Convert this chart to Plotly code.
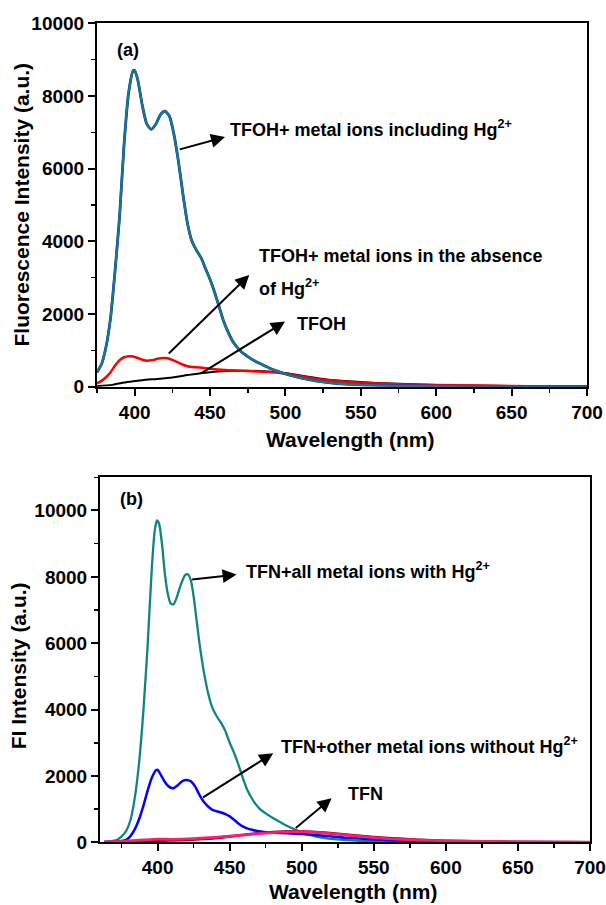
import plotly.graph_objects as go

# ---------------- data (a) ----------------
wl_a_teal = [375, 378, 381, 384, 387, 390, 393, 396, 399, 400, 402, 405, 408, 411, 414, 417, 420, 423, 426, 429,
             432, 435, 438, 441, 444, 447, 450, 453, 456, 459, 462, 465, 468, 471, 475, 480, 485, 490, 495, 500,
             510, 520, 530, 540, 550, 575, 600, 650, 700]
a_teal = [400, 620, 1100, 1900, 3200, 4700, 6700, 8100, 8700, 8700, 8450, 7750, 7230, 7080, 7220, 7480, 7580, 7450, 6950, 6200,
          5300, 4500, 4000, 3750, 3550, 3250, 2950, 2600, 2200, 1800, 1500, 1250, 1080, 950, 830, 700, 600, 500, 420, 350,
          240, 160, 105, 70, 50, 25, 15, 6, 0]

wl_a_red = [375, 378, 381, 384, 387, 390, 393, 396, 399, 402, 405, 408, 411, 414, 417, 420, 423, 426, 429, 432,
            435, 438, 441, 445, 450, 460, 470, 480, 490, 500, 510, 520, 530, 540, 550, 560, 575, 600, 625, 650, 675, 700]
a_red = [90, 160, 260, 400, 580, 730, 810, 840, 830, 790, 740, 715, 725, 755, 780, 790, 770, 715, 660, 605,
         565, 545, 535, 520, 495, 460, 440, 420, 400, 365, 285, 220, 170, 135, 110, 90, 70, 45, 30, 20, 10, 5]

wl_a_black = [375, 385, 395, 405, 415, 425, 435, 445, 455, 465, 475, 485, 495, 505, 515, 525, 535, 545, 560, 580,
              600, 625, 650, 675, 700]
a_black = [15, 50, 130, 180, 215, 255, 320, 380, 420, 440, 440, 425, 395, 340, 275, 215, 170, 140, 105, 75,
           50, 30, 18, 8, 3]

# ---------------- data (b) ----------------
wl_b_teal = [363, 366, 369, 372, 375, 378, 381, 384, 387, 390, 393, 396, 398, 399.5, 401, 403, 405, 407, 409, 411,
             413, 416, 419, 421, 423, 425, 427, 429, 432, 435, 438, 441, 444, 447, 450, 453, 456, 459, 462, 465,
             468, 471, 475, 480, 485, 490, 495, 500, 505, 510, 520, 530, 540, 560, 600, 650, 700]
b_teal = [15, 25, 40, 80, 180, 330, 650, 1300, 2350, 3900, 5900, 8300, 9400, 9700, 9600, 9000, 8100, 7500, 7200, 7170,
          7350, 7750, 8050, 8080, 7900, 7400, 6700, 6000, 5150, 4500, 4050, 3800, 3600, 3350, 3000, 2700, 2350, 1950, 1600, 1350,
          1150, 1000, 870, 730, 610, 490, 390, 300, 230, 170, 100, 65, 45, 25, 10, 5, 0]

wl_b_blue = [363, 370, 375, 378, 381, 384, 387, 390, 393, 396, 399, 400, 402, 405, 408, 411, 414, 417, 420, 423,
             426, 429, 432, 435, 438, 441, 444, 447, 450, 453, 456, 459, 462, 466, 470, 475, 480, 490, 500, 510,
             520, 530, 545, 560, 580, 600, 650, 700]
b_blue = [10, 20, 40, 70, 180, 380, 680, 1080, 1550, 1950, 2180, 2180, 2050, 1820, 1670, 1630, 1720, 1840, 1880, 1840,
          1680, 1430, 1220, 1080, 980, 935, 900, 850, 780, 680, 570, 480, 420, 370, 335, 305, 290, 270, 250, 220,
          180, 140, 100, 65, 40, 25, 8, 0]

wl_b_maroon = [363, 380, 400, 420, 440, 460, 480, 495, 510, 525, 540, 560, 580, 600, 625, 650, 700]
b_maroon = [5, 20, 50, 70, 120, 230, 310, 330, 310, 260, 200, 130, 80, 50, 25, 12, 0]

wl_b_pink = [363, 375, 390, 400, 410, 425, 440, 455, 470, 485, 495, 505, 520, 540, 560, 580, 600, 625, 650, 700]
b_pink = [10, 30, 70, 95, 90, 110, 150, 200, 260, 305, 320, 310, 260, 180, 110, 70, 45, 25, 12, 2]

x_ticks = [400, 450, 500, 550, 600, 650, 700]

FONT = "Liberation Sans"
W, H = 606, 905

fig = go.Figure()

def line(x, y, color, width, xa, ya):
    fig.add_trace(go.Scatter(x=x, y=y, mode="lines", xaxis=xa, yaxis=ya,
                             line=dict(color=color, width=width, shape="spline", smoothing=0.6),
                             hoverinfo="skip", showlegend=False))

# panel (a)
line(wl_a_black, a_black, "#000000", 2, "x", "y")
line(wl_a_red, a_red, "#ff0000", 2.5, "x", "y")
line(wl_a_teal, a_teal, "#1a1ad0", 2.8, "x", "y")
line(wl_a_teal, a_teal, "#177a80", 2.3, "x", "y")
# panel (b)
line(wl_b_teal, b_teal, "#0f8580", 2.3, "x2", "y2")
line(wl_b_blue, b_blue, "#0000ff", 2.5, "x2", "y2")
line(wl_b_maroon, b_maroon, "#800020", 2.5, "x2", "y2")
line(wl_b_pink, b_pink, "#ff1a75", 2.8, "x2", "y2")

def xaxis(rng, dom, anchor):
    return dict(range=rng, domain=dom, anchor=anchor, tickvals=x_ticks, ticks="outside", ticklen=7, tickwidth=2,
                tickcolor="black", showline=True, linewidth=2, linecolor="black", mirror=True,
                showgrid=False, zeroline=False, automargin=False,
                minor=dict(ticks="outside", ticklen=4, tickwidth=1.5, tickcolor="black", dtick=25, tick0=0),
                tickfont=dict(family=FONT, size=19, color="black", weight="bold"))

def yaxis(rng, dom, anchor, dtick):
    return dict(range=rng, domain=dom, anchor=anchor, dtick=dtick, tick0=0, tickformat="d",
                ticks="outside", ticklen=7, tickwidth=2,
                tickcolor="black", showline=True, linewidth=2, linecolor="black", mirror=True,
                showgrid=False, zeroline=False, automargin=False,
                minor=dict(ticks="outside", ticklen=4, tickwidth=1.5, tickcolor="black", dtick=1000, tick0=0),
                tickfont=dict(family=FONT, size=19, color="black", weight="bold"))

fig.update_layout(
    width=W, height=H, margin=dict(l=0, r=0, t=0, b=0, pad=0, autoexpand=False),
    paper_bgcolor="white", plot_bgcolor="white", showlegend=False,
    xaxis=xaxis([375, 700], [97 / W, 587 / W], "y"),
    yaxis=yaxis([0, 10000], [1 - 386.7 / H, 1 - 23.3 / H], "x", 2000),
    xaxis2=xaxis([360, 700], [100 / W, 590 / W], "y2"),
    yaxis2=yaxis([0, 11000], [1 - 842.3 / H, 1 - 477.3 / H], "x2", 2000),
)

ann = []

def text(x, y, s, xr, yr, size=18):
    ann.append(dict(x=x, y=y, xref=xr, yref=yr, text=s, showarrow=False, xanchor="left", yanchor="middle",
                    font=dict(family=FONT, size=size, color="black", weight="bold")))

def arrow(hx, hy, tx, ty, xr, yr):
    ann.append(dict(x=hx, y=hy, ax=tx, ay=ty, xref=xr, yref=yr, axref=xr, ayref=yr, text="",
                    showarrow=True, arrowhead=2, arrowsize=1.4, arrowwidth=2, arrowcolor="black",
                    standoff=0, startstandoff=0))

# panel (a) annotations
text(386.9, 9256, "(a)", "x", "y")
text(462.2, 7100, "TFOH+ metal ions including Hg<sup>2+</sup>", "x", "y")
arrow(459.9, 6870, 428.9, 6520, "x", "y")
text(481.3, 3600, "TFOH+ metal ions in the absence", "x", "y")
text(481.3, 2740, "of Hg<sup>2+</sup>", "x", "y")
arrow(476, 3077, 421.6, 873, "x", "y")
text(506.3, 1727, "TFOH", "x", "y")
arrow(499.7, 1791, 443.3, 350, "x", "y")

# panel (b) annotations
text(372.7, 10333, "(b)", "x2", "y2")
text(459.9, 8200, "TFN+all metal ions with Hg<sup>2+</sup>", "x2", "y2")
arrow(454.8, 8068, 422.9, 7917, "x2", "y2")
text(484.1, 2920, "TFN+other metal ions without Hg<sup>2+</sup>", "x2", "y2")
arrow(480.2, 2686, 430.5, 1328, "x2", "y2")
text(530.4, 1458, "TFN", "x2", "y2")
arrow(520.7, 1328, 494.8, 392, "x2", "y2")

# axis titles
def title(x, y, s, angle=0):
    ann.append(dict(x=x / W, y=1 - y / H, xref="paper", yref="paper", text=s, showarrow=False,
                    xanchor="center", yanchor="middle", textangle=angle,
                    font=dict(family=FONT, size=21, color="black", weight="bold")))

title(21, 204.5, "Fluorescence Intensity (a.u.)", -90)
title(18.5, 665.8, "FI Intensity (a.u.)", -90)
title(350, 439, "Wavelength (nm)")
title(353, 891.7, "Wavelength (nm)")

fig.update_layout(annotations=ann)
fig.write_html("out.html", config={"displayModeBar": False, "staticPlot": True},
               post_script="document.body.style.margin='0px';document.body.style.padding='0px';"
                           "document.body.style.overflow='hidden';")
